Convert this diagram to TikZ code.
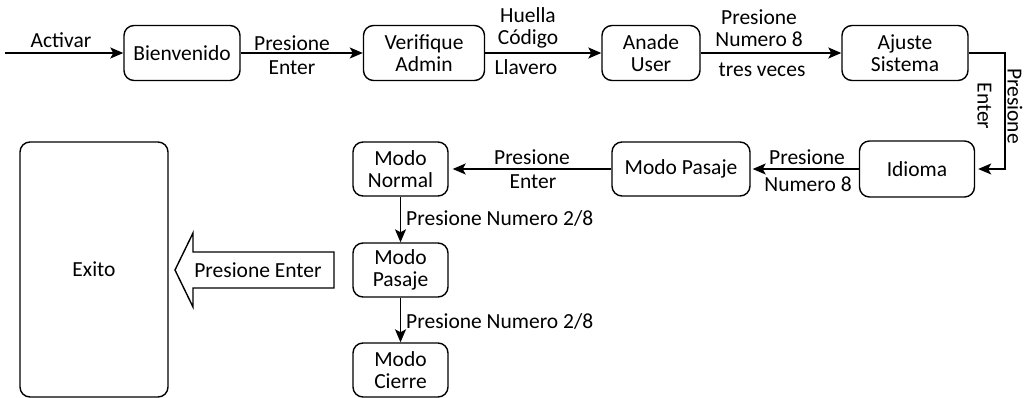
\documentclass[tikz,border=0pt]{standalone}
\usepackage{fontspec}
\setmainfont{Carlito}
\usetikzlibrary{arrows.meta}
\begin{document}
\begin{tikzpicture}[x=1pt,y=-1pt,
  txt/.style={font=\fontsize{21.5}{21.5}\selectfont},
  box/.style={txt, draw, rounded corners=10pt, line width=1.4pt, align=center, inner sep=0pt},
  lbl/.style={txt, align=center, inner sep=0pt},
  conn/.style={line width=1.4pt, -{Stealth[length=13pt,width=11pt,inset=3pt]}}]
\useasboundingbox (0,0) rectangle (1026,398);
% top row
\node[box, minimum width=116pt, minimum height=55pt] (bien) at (182,53) {Bienvenido};
\node[box, minimum width=121pt, minimum height=55pt] (veri) at (424,53) {Verifique\\Admin};
\node[box, minimum width=98pt, minimum height=55pt] (anade) at (651,53) {Anade\\User};
\node[box, minimum width=126pt, minimum height=55pt] (ajuste) at (905,53) {Ajuste\\Sistema};
% middle row
\node[box, minimum width=115pt, minimum height=56pt] (idioma) at (917,169) {Idioma};
\node[box, minimum width=138pt, minimum height=54pt] (pasaje1) at (681,169) {Modo Pasaje};
\node[box, minimum width=95pt, minimum height=54pt] (normal) at (400.5,169) {Modo\\Normal};
% column
\node[box, minimum width=95pt, minimum height=54pt] (pasaje2) at (400.5,270) {Modo\\Pasaje};
\node[box, minimum width=95pt, minimum height=54pt] (cierre) at (400.5,370) {Modo\\Cierre};
\node[box, minimum width=148pt, minimum height=255pt] (exito) at (94,269.5) {Exito};
% start
\coordinate (start) at (5,53);
\draw[conn] (start) -- (bien.west);
\node[lbl] (lactivar) at (61,40) {Activar};
\draw[conn] (bien) -- (veri);
\node[lbl] (l1a) at (292,43) {Presione};
\node[lbl] (l1b) at (292,68) {Enter};
\draw[conn] (veri) -- (anade);
\node[lbl] (l2a) at (528,28) {Huella\\Código};
\node[lbl] (l2b) at (526,67) {Llavero};
\draw[conn] (anade) -- (ajuste);
\node[lbl] (l3a) at (759,28) {Presione\\Numero 8};
\node[lbl] (l3b) at (762,70) {tres veces};
\coordinate (c1) at (1005,53);
\coordinate (c2) at (1005,169);
\draw[conn, shorten >=3pt] (ajuste.east) -- (c1) -- (c2) -- (idioma.east);
\node[lbl, rotate=-90, font=\fontsize{21.5}{30}\selectfont] (l4) at (1000,106) {Presione\\Enter};
\draw[conn, shorten >=2pt] (idioma) -- (pasaje1);
\node[lbl] (l5a) at (807,157) {Presione};
\node[lbl] (l5b) at (808,184) {Numero 8};
\draw[conn, shorten >=4pt] (pasaje1) -- (normal);
\node[lbl] (l6a) at (532,157) {Presione};
\node[lbl] (l6b) at (533,182) {Enter};
\draw[conn] (normal) -- (pasaje2);
\node[lbl, anchor=west] (l7) at (406,218) {Presione Numero 2/8};
\draw[conn] (pasaje2) -- (cierre);
\node[lbl, anchor=west] (l8) at (406,321) {Presione Numero 2/8};
% block arrow
\draw[line width=1.4pt, line join=miter] (334,252) -- (193,252) -- (193,233) -- (175,270) -- (193,307) -- (193,288) -- (334,288) -- cycle;
\node[lbl] (lblock) at (258,270) {Presione Enter};
\end{tikzpicture}
\end{document}
